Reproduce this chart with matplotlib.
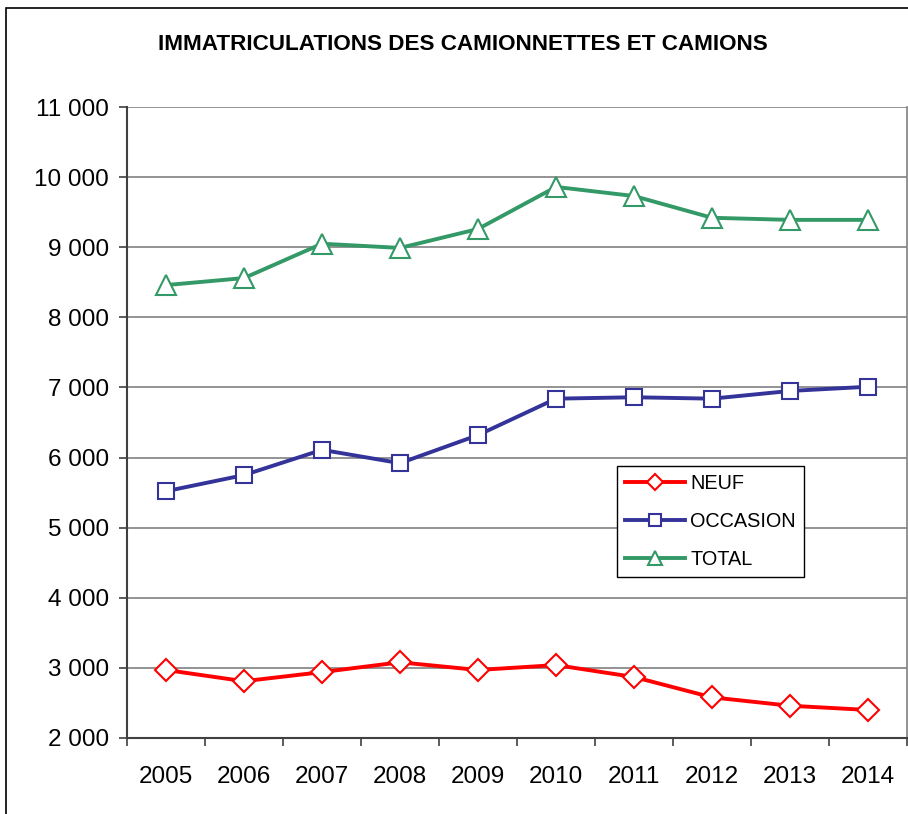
import matplotlib
matplotlib.use("Agg")
import matplotlib.pyplot as plt
from matplotlib.patches import Rectangle
from matplotlib.ticker import FuncFormatter, FixedLocator

plt.rcParams['font.family'] = ['Liberation Sans', 'DejaVu Sans']

years = ['2005', '2006', '2007', '2008', '2009', '2010', '2011', '2012', '2013', '2014']
neuf = [2970, 2810, 2940, 3080, 2970, 3040, 2870, 2580, 2460, 2400]
occasion = [5520, 5750, 6110, 5920, 6320, 6840, 6860, 6840, 6950, 7010]
total = [8460, 8560, 9050, 8990, 9260, 9860, 9730, 9420, 9390, 9390]

W, H = 908, 814
fig = plt.figure(figsize=(W / 100, H / 100), dpi=100)
ax = fig.add_axes([127 / W, 1 - 738 / H, 780 / W, 631 / H])

# outer chart frame (cut off at right and bottom like the source)
fig.patches.append(Rectangle((6 / W, -0.1), 1.2, 1 - 8 / H + 0.1, transform=fig.transFigure,
                             fill=False, edgecolor='black', linewidth=1.2))

x = list(range(len(years)))
ax.plot(x, neuf, color='#FF0000', lw=2.8, marker='D', ms=11, mfc='white', mec='#FF0000', mew=1.5, label='NEUF')
ax.plot(x, occasion, color='#333399', lw=2.8, marker='s', ms=12, mfc='white', mec='#333399', mew=1.5, label='OCCASION')
ax.plot(x, total, color='#339966', lw=2.8, marker='^', ms=15, mfc='white', mec='#339966', mew=1.5, label='TOTAL')

ax.set_xlim(-0.5, len(years) - 0.5)
ax.set_ylim(2000, 11000)
ax.set_yticks(range(2000, 11001, 1000))
ax.yaxis.set_major_formatter(FuncFormatter(lambda v, p: f"{int(v):,}".replace(',', ' ')))
ax.yaxis.grid(True, color='#808080', lw=1.2)
ax.set_axisbelow(True)

ax.set_xticks(x)
ax.set_xticklabels(years)
ax.tick_params(axis='x', which='major', length=0, labelsize=17.5, pad=20)
ax.xaxis.set_minor_locator(FixedLocator([i - 0.5 for i in range(len(years) + 1)]))
ax.tick_params(axis='x', which='minor', length=6, width=1.2, color='#404040', direction='out')
ax.tick_params(axis='y', length=6, width=1.2, color='#404040', labelsize=17.5, pad=7)

for s in ['left', 'bottom']:
    ax.spines[s].set_color('#404040')
    ax.spines[s].set_linewidth(1.5)
ax.spines['right'].set_color('#808080')
ax.spines['right'].set_linewidth(1.2)
ax.spines['top'].set_visible(False)

fig.text(463 / W, 1 - 45 / H, 'IMMATRICULATIONS DES CAMIONNETTES ET CAMIONS',
         ha='center', va='center', fontsize=16.2, fontweight='bold')

leg = ax.legend(loc='upper left', bbox_to_anchor=((617 - 127) / 780, (738 - 466) / 631),
                fontsize=14.3, frameon=True, fancybox=False, edgecolor='black',
                framealpha=1, handlelength=3.0, handletextpad=0.3, borderpad=0.4,
                labelspacing=0.95, borderaxespad=0, markerscale=0.7)
leg.get_frame().set_linewidth(1.0)

fig.savefig('out.png', dpi=100)
